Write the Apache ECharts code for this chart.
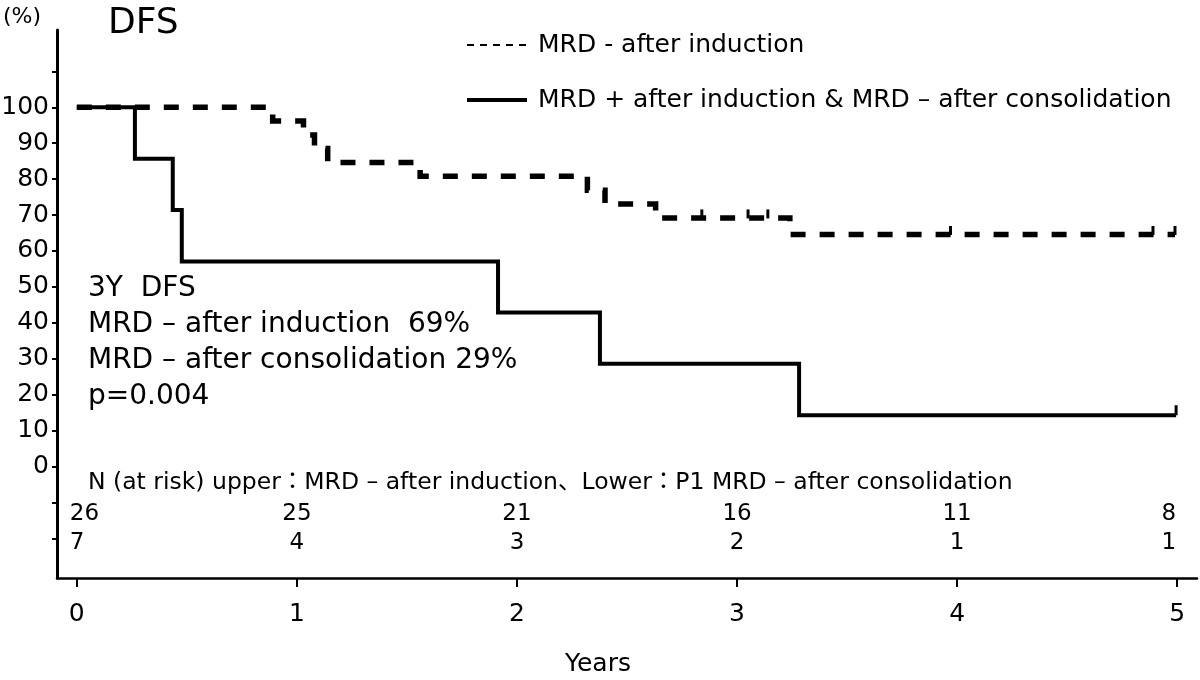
<!DOCTYPE html>
<html><head><meta charset="utf-8">
<script src="https://cdn.jsdelivr.net/npm/echarts@6/dist/echarts.min.js"></script>
<style>html,body{margin:0;padding:0;background:#fff}#c{width:1200px;height:680px}</style>
</head><body><div id="c"></div>
<script>
// ---------------- data ----------------
const seriesNames = ['MRD - after induction', 'MRD + after induction & MRD – after consolidation'];
// MRD-negative after induction (dashed)
const timesNeg = [0, 0.89, 1.03, 1.08, 1.14, 1.56, 2.32, 2.40, 2.63, 3.24, 4.99];
const dfsNeg   = [100, 96.2, 92.3, 88.5, 84.6, 80.8, 76.9, 73.1, 69.2, 64.6, 64.6];
const censorNegTimes = [2.84, 3.05, 3.14, 3.97, 4.89, 4.99];
const censorNegVals  = [69.2, 69.2, 69.2, 64.6, 64.6, 64.6];
// MRD+ after induction & MRD- after consolidation (solid)
const timesPos = [0, 0.264, 0.436, 0.477, 1.914, 2.377, 3.282, 4.995];
const dfsPos   = [100, 85.7, 71.4, 57.1, 42.9, 28.6, 14.3, 14.3];
const censorPosTimes = [4.995];
const censorPosVals  = [14.3];
// numbers at risk
const riskYears = [0, 1, 2, 3, 4, 5];
const riskNeg = [26, 25, 21, 16, 11, 8];
const riskPos = [7, 4, 3, 2, 1, 1];
// ticks
const xTicks = [0, 1, 2, 3, 4, 5];
const yLabelTicks = [0, 10, 20, 30, 40, 50, 60, 70, 80, 90, 100];
const yTicks = [-20, -10, 0, 10, 20, 30, 40, 50, 60, 70, 80, 90, 100, 110];
// texts
const titleText = 'DFS';
const unitText = '(%)';
const xName = 'Years';
const annotationLines = ['3Y  DFS', 'MRD – after induction  69%', 'MRD – after consolidation 29%', 'p=0.004'];
const riskHeader = 'N (at risk) upper：MRD – after induction、Lower：P1 MRD – after consolidation';

// ---------------- chart ----------------
const FONT = "'DejaVu Sans', 'Noto Sans CJK JP', sans-serif";
const chart = echarts.init(document.getElementById('c'), null, {renderer: 'canvas'});

const zip = (a, b) => a.map((v, i) => [v, b[i]]);
const RISK_ROW_Y = [-13.1, -21.2];

function riskData(vals, rowY) {
  return riskYears.map((yr, i) => {
    const item = {value: [yr, rowY, vals[i]]};
    if (i === 0) item.label = {align: 'left', offset: [-7, 0]};
    if (i === riskYears.length - 1) item.label = {align: 'right', offset: [-1, 0]};
    return item;
  });
}

const riskLabel = {
  show: true, position: 'inside', color: '#000', opacity: 1,
  textBorderWidth: 0, textBorderColor: 'transparent',
  fontFamily: FONT, fontSize: 23,
  formatter: p => String(p.value[2])
};

const option = {
  backgroundColor: '#fff',
  animation: false,
  grid: {left: 57, right: 3, top: 30, bottom: 102, containLabel: false, outerBoundsMode: 'none'},
  xAxis: {
    type: 'value', min: -0.09, max: 5.09,
    splitLine: {show: false},
    axisLine: {show: true, onZero: false, lineStyle: {color: '#000', width: 2.5}},
    axisTick: {show: true, customValues: xTicks, length: 9, lineStyle: {color: '#000', width: 2}},
    axisLabel: {customValues: xTicks, color: '#000', fontFamily: FONT, fontSize: 25, margin: 24},
  },
  yAxis: {
    type: 'value', min: -31, max: 121.5,
    splitLine: {show: false},
    axisLine: {show: true, onZero: false, lineStyle: {color: '#000', width: 3}},
    axisTick: {show: true, customValues: yTicks, length: 5, lineStyle: {color: '#000', width: 2}},
    axisLabel: {customValues: yLabelTicks, color: '#000', fontFamily: FONT, fontSize: 25, margin: 8},
  },
  legend: {
    show: true,
    orient: 'vertical', left: 465, top: 30, padding: 0,
    itemWidth: 60, itemHeight: 30, itemGap: 25,
    selectedMode: false,
    textStyle: {color: '#000', fontFamily: FONT, fontSize: 25, lineHeight: 30, padding: [0, 0, 0, 6]},
    data: [
      {name: seriesNames[0], lineStyle: {color: '#000', width: 2, type: [7, 6]}, itemStyle: {opacity: 0}},
      {name: seriesNames[1], lineStyle: {color: '#000', width: 4, type: 'solid'}, itemStyle: {opacity: 0}}
    ]
  },
  series: [
    {
      name: seriesNames[1], type: 'line', step: 'end', showSymbol: false, symbol: 'none',
      data: zip(timesPos, dfsPos),
      lineStyle: {color: '#000', width: 4, type: 'solid', cap: 'butt', join: 'miter'},
      itemStyle: {color: '#000'}, z: 3
    },
    {
      name: seriesNames[0], type: 'line', step: 'end', showSymbol: false, symbol: 'none',
      data: zip(timesNeg, dfsNeg),
      lineStyle: {color: '#000', width: 5.5, type: [15, 14], cap: 'butt', join: 'miter'},
      itemStyle: {color: '#000'}, z: 4
    },
    {
      name: 'censor-neg', type: 'scatter', symbol: 'rect', symbolSize: [3, 9], symbolOffset: [0, -4],
      data: zip(censorNegTimes, censorNegVals), itemStyle: {color: '#000', opacity: 1}, silent: true, z: 5
    },
    {
      name: 'censor-pos', type: 'scatter', symbol: 'rect', symbolSize: [3, 10], symbolOffset: [0, -5],
      data: zip(censorPosTimes, censorPosVals), itemStyle: {color: '#000', opacity: 1}, silent: true, z: 5
    },
    {
      name: 'risk-neg', type: 'scatter', symbolSize: 0, silent: true,
      itemStyle: {color: '#000', opacity: 1},
      data: riskData(riskNeg, RISK_ROW_Y[0]), label: riskLabel
    },
    {
      name: 'risk-pos', type: 'scatter', symbolSize: 0, silent: true,
      itemStyle: {color: '#000', opacity: 1},
      data: riskData(riskPos, RISK_ROW_Y[1]), label: riskLabel
    }
  ],
  graphic: [
    {type: 'text', x: 108, y: 24, style: {text: titleText, font: '36px ' + FONT, fill: '#000', textVerticalAlign: 'middle', verticalAlign: 'middle'}},
    {type: 'text', x: 3, y: 17, style: {text: unitText, font: '22px ' + FONT, fill: '#000', textVerticalAlign: 'middle', verticalAlign: 'middle'}},
    {type: 'text', x: 565, y: 664, style: {text: xName, font: '25px ' + FONT, fill: '#000', textVerticalAlign: 'middle', verticalAlign: 'middle'}},
    {type: 'text', x: 88, y: 483, style: {text: riskHeader, font: '23.5px ' + FONT, fill: '#000', textVerticalAlign: 'middle', verticalAlign: 'middle'}}
  ].concat(annotationLines.map((t, i) => ({
    type: 'text', x: 88, y: 289 + i * 36,
    style: {text: t, font: '28px ' + FONT, fill: '#000', textVerticalAlign: 'middle', verticalAlign: 'middle'}
  })))
};
chart.setOption(option);
</script>
</body></html>
